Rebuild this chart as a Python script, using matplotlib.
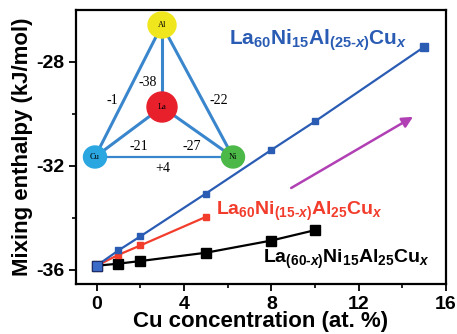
import matplotlib
matplotlib.use('Agg')
import matplotlib.pyplot as plt
from matplotlib.patches import Ellipse

plt.rcParams['font.family'] = 'Liberation Sans'
plt.rcParams['font.weight'] = 'bold'
plt.rcParams['axes.labelweight'] = 'bold'
plt.rcParams['axes.unicode_minus'] = False
plt.rcParams['mathtext.fontset'] = 'custom'
plt.rcParams['mathtext.rm'] = 'Liberation Sans:bold'
plt.rcParams['mathtext.bf'] = 'Liberation Sans:bold'
plt.rcParams['mathtext.it'] = 'Liberation Sans:bold:italic'
plt.rcParams['mathtext.default'] = 'bf'

# Cu content (at. %) and mixing enthalpy (kJ/mol) for the three series
x_al = [0, 1, 2, 5, 8, 10, 15]
h_al = [-35.85, -35.26, -34.72, -33.07, -31.39, -30.29, -27.42]
x_ni = [0, 1, 2, 5]
h_ni = [-35.85, -35.43, -35.07, -33.97]
x_la = [0, 1, 2, 5, 8, 10]
h_la = [-35.85, -35.77, -35.67, -35.35, -34.88, -34.48]

# binary mixing enthalpies between elements (inset)
elements = ['Al', 'La', 'Cu', 'Ni']
node_xy = {'Al': (162, 25), 'La': (162, 107), 'Cu': (95, 157), 'Ni': (233, 157)}
node_color = {'Al': '#f0e61e', 'La': '#e8202c', 'Cu': '#2aa6e0', 'Ni': '#4cb848'}
node_size = {'Al': (28, 26), 'La': (30, 30), 'Cu': (23, 22), 'Ni': (23, 22)}
pairs = [('Al', 'La'), ('Al', 'Cu'), ('Al', 'Ni'), ('La', 'Cu'), ('La', 'Ni'), ('Cu', 'Ni')]
pair_labels = ['-38', '-1', '-22', '-21', '-27', '+4']
label_xy = [(148, 82), (112, 101), (219, 101), (139, 146), (192, 146), (163, 169)]

blue = '#2a5cb4'
red = '#f23c2c'

fig = plt.figure(figsize=(4.57, 3.34), dpi=100)
ax = fig.add_axes([0.166, 0.150, 0.810, 0.820])

ax.plot(x_la, h_la, color='black', lw=1.6, marker='s', ms=6.5, zorder=3)
ax.plot(x_ni, h_ni, color=red, lw=1.6, marker='s', ms=4, zorder=4)
ax.plot(x_al, h_al, color=blue, lw=1.6, marker='s', ms=4.5, zorder=5)
ax.plot(x_al[:1], h_al[:1], ls='none', marker='s', ms=7, color='#3a6cc8',
        mec='#1c2c6c', mew=0.8, zorder=6)
ax.plot(x_al[-1:], h_al[-1:], ls='none', marker='s', ms=5.5, color=blue, zorder=6)

ax.annotate('', xy=(14.6, -30.06), xytext=(8.8, -32.91),
            arrowprops=dict(arrowstyle='-|>', color='#b040b4', lw=1.8,
                            mutation_scale=16))

ax.text(6.05, -27.35, r'La$_{60}$Ni$_{15}$Al$_{(25\text{-}\mathit{x})}$Cu$_{\mathit{x}}$',
        color=blue, fontsize=15, va='baseline')
ax.text(5.45, -33.9, r'La$_{60}$Ni$_{(15\text{-}\mathit{x})}$Al$_{25}$Cu$_{\mathit{x}}$',
        color=red, fontsize=14, va='baseline')
ax.text(7.6, -35.75, r'La$_{(60\text{-}\mathit{x})}$Ni$_{15}$Al$_{25}$Cu$_{\mathit{x}}$',
        color='black', fontsize=14, va='baseline')

ax.set_xlim(-0.95, 16.0)
ax.set_ylim(-36.55, -26.0)
ax.set_xticks([0, 4, 8, 12, 16])
ax.set_xticks([2, 6, 10, 14], minor=True)
ax.set_yticks([-36, -32, -28])
ax.set_yticks([-34, -30], minor=True)
ax.tick_params(which='major', direction='out', length=5, width=1.3, labelsize=14)
ax.tick_params(which='minor', direction='out', length=3, width=1.2)
for s in ax.spines.values():
    s.set_linewidth(1.6)
ax.set_xlabel('Cu concentration (at. %)', fontsize=16, labelpad=-1)
ax.set_ylabel('Mixing enthalpy (kJ/mol)', fontsize=16, labelpad=2)

# inset: element triangle, drawn in pixel units over the figure
ins = fig.add_axes([0, 0, 1, 1], zorder=10)
ins.set_xlim(0, 457)
ins.set_ylim(334, 0)
ins.axis('off')
ins.patch.set_alpha(0)
for (a, b) in pairs:
    xa, ya = node_xy[a]
    xb, yb = node_xy[b]
    lw = 1.6 if (a, b) == ('Cu', 'Ni') else 2.2
    ins.plot([xa, xb], [ya, yb], color='#3a86cc', lw=lw, solid_capstyle='round')
for lab, (lx, ly) in zip(pair_labels, label_xy):
    ins.text(lx, ly, lab, fontsize=10, fontweight='normal', family='Liberation Serif',
             ha='center', va='center')
for el in elements:
    w, h = node_size[el]
    ins.add_patch(Ellipse(node_xy[el], w, h, color=node_color[el], zorder=3))
    ins.text(*node_xy[el], el, fontsize=6, fontweight='normal', family='Liberation Serif',
             ha='center', va='center', zorder=4)

fig.savefig('out.png', dpi=100)
